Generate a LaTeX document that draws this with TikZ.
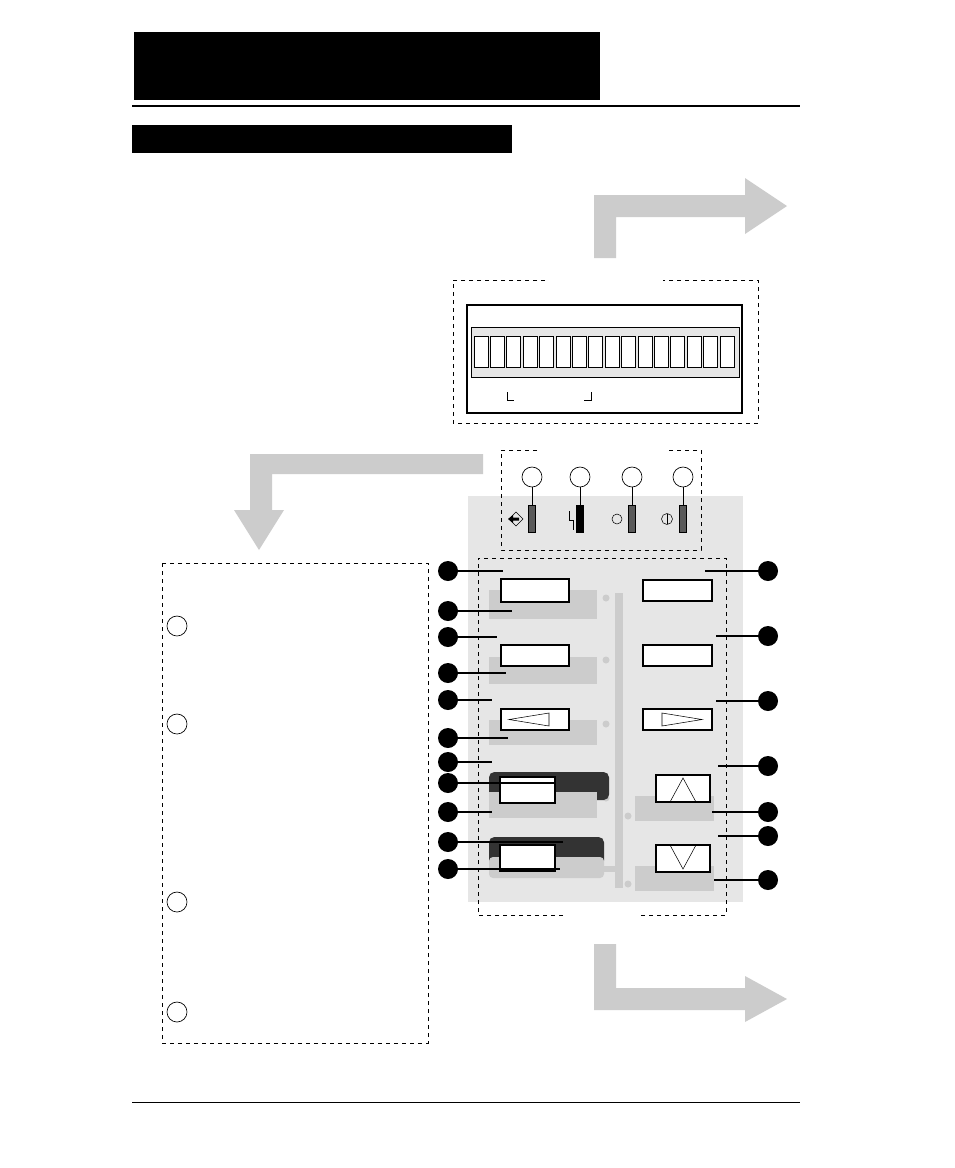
\documentclass[tikz,border=0pt]{standalone}
\usepackage{tikz}
\definecolor{ga}{HTML}{CCCCCC}
\definecolor{gb}{HTML}{E6E6E6}
\definecolor{gd}{HTML}{333333}
\definecolor{gl}{HTML}{5A5A5A}
\begin{document}
\begin{tikzpicture}[x=0.75pt,y=-0.75pt,
 btn/.style={draw=black,fill=white,line width=0.9pt},
 dsh/.style={dashed,line width=0.5pt},
 lead/.style={line width=0.8pt},
 bc/.style={circle,fill=black,minimum size=20pt*0.75,inner sep=0},
 oc/.style={circle,draw=black,fill=white,minimum size=20pt*0.75,inner sep=0,line width=0.5pt}]
\useasboundingbox (0,0) rectangle (954,1168);
\fill[white] (0,0) rectangle (954,1168);
% header
\fill[black] (134,32) rectangle (600,100);
\draw[line width=1.5pt] (132,106) -- (800,106);
\fill[black] (132,125) rectangle (512,153);
\draw[line width=0.6pt] (132,1102) -- (800,1102);
% top right arrow
\fill[ga] (594,258) -- (594,195) -- (745,195) -- (745,178) -- (787,206) -- (745,234) -- (745,217) -- (616,217) -- (616,258) -- cycle;
% left arrow
\fill[ga] (483,454) -- (250,454) -- (250,510) -- (234,510) -- (259,550) -- (284,510) -- (272,510) -- (272,474) -- (483,474) -- cycle;
% bottom arrow
\fill[ga] (594,944) -- (594,1010) -- (745,1010) -- (745,1022) -- (787,999) -- (745,976) -- (745,988) -- (616,988) -- (616,944) -- cycle;
% display
\draw[dsh] (545,280) -- (453,280) -- (453,423) -- (758,423) -- (758,280) -- (663,280);
\draw[line width=0.8pt] (467,305) rectangle (742,413);
\draw[fill=gb,line width=0.6pt] (471,327) rectangle (739,377);
\foreach \i in {0,...,15} \draw[fill=white,line width=0.6pt] (474+\i*16.4,336) rectangle (488+\i*16.4,367);
\draw[line width=0.6pt] (507,392) -- (507,400) -- (514,400);
\draw[line width=0.6pt] (591,392) -- (591,400) -- (584,400);
% panel
\fill[gb] (468,496) rectangle (743,902);
% LEDs
\draw[dsh] (537,450) -- (501,450) -- (501,550) -- (701,550) -- (701,450) -- (668,450);
\foreach \x/\c [count=\k] in {532/gl,580/black,632/gl,683/gl}{
  \node[oc] (led\k) at (\x,477) {};
  \draw[line width=0.5pt] (led\k.south) -- (\x,505);
  \draw[fill=\c,line width=0.5pt] (\x-3.5,505) rectangle (\x+3.5,532);
}
% LED symbols
\draw[line width=0.4pt] (516,512) -- (523,519) -- (516,526) -- (509,519) -- cycle;
\fill[black] (508,519) -- (513,515) -- (513,517.5) -- (519,517.5) -- (519,520.5) -- (513,520.5) -- (513,523) -- cycle;
\draw[line width=0.4pt] (569,511) -- (569,520) -- (573,520) -- (573,530);
\draw[line width=0.4pt] (617,519) circle (5);
\draw[line width=0.4pt] (667,519) circle (5.5);
\draw[line width=0.4pt] (667,514) -- (667,524);
% button area
\draw[dsh] (563,915) -- (478,915) -- (478,558) -- (726,558) -- (726,915) -- (641,915);
\fill[ga] (615,593) rectangle (623,888);
\foreach \p in {(593,598),(606,598),(606,660),(606,724),(606,798),(628,816),(628,884)} \fill[ga] \p circle (3.5);
% left buttons
\fill[ga] (489,590) rectangle (597,619);
\draw[btn] (501,579) rectangle (569,602);
\fill[ga] (489,657) rectangle (597,684);
\draw[btn] (501,645) rectangle (569,666);
\fill[ga] (489,720) rectangle (597,745);
\draw[btn] (501,709) rectangle (569,730);
\draw[line width=0.4pt] (509,719.5) -- (549,713) -- (549,726) -- cycle;
\fill[gd,rounded corners=4pt] (489,772) rectangle (609,800);
\fill[ga] (489,792) rectangle (597,818);
\draw[btn] (500,777) rectangle (555,803);
\fill[gd,rounded corners=4pt] (489,837) rectangle (604,866);
\fill[ga,rounded corners=3pt] (489,857) rectangle (604,878);
\fill[ga] (600,866) -- (615,866) -- (615,872) -- (600,872);
\draw[btn] (500,845) rectangle (555,871);
% right buttons
\draw[btn] (643,580) rectangle (712,601);
\draw[btn] (643,645) rectangle (712,666);
\draw[btn] (643,709) rectangle (712,730);
\draw[line width=0.4pt] (662,713) -- (702,719.5) -- (662,726) -- cycle;
\fill[ga] (635,796) rectangle (714,821);
\draw[btn] (656,775) rectangle (710,802);
\draw[line width=0.4pt] (670,802) -- (683,778) -- (696,802);
\fill[ga] (635,866) rectangle (714,891);
\draw[btn] (656,845) rectangle (710,872);
\draw[line width=0.4pt] (670,845) -- (683,869) -- (696,845);
% left callouts
\foreach \y/\x [count=\k] in {571/503,611/512,637/497,673/506,700/492,738/508,762/492,783/555,812/492,842/563,869/560}{
  \node[bc] (L\k) at (448,\y) {};
  \coordinate (le\k) at (\x,\y);
  \draw[lead] (L\k) -- (le\k);
}
% right callouts
\foreach \y/\x [count=\k] in {571/705,636/716,701/716,766/718,812/712,836/718,880/714}{
  \node[bc] (R\k) at (768,\y) {};
  \coordinate (re\k) at (\x,\y);
  \draw[lead] (R\k) -- (re\k);
}
% description box
\draw[dsh] (162,563) rectangle (428,1043);
\foreach \y [count=\k] in {626,724,902,1012} \node[oc] (d\k) at (177,\y) {};
\end{tikzpicture}
\end{document}
